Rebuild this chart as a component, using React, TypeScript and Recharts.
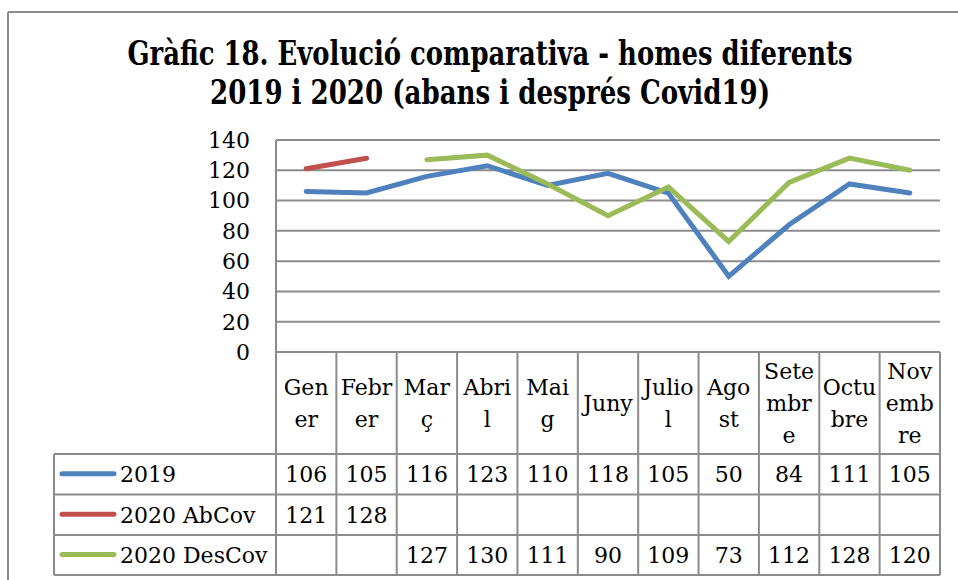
import { LineChart, Line, XAxis, YAxis, CartesianGrid, Customized } from 'recharts';

const months = ['Gener', 'Febrer', 'Març', 'Abril', 'Maig', 'Juny', 'Juliol', 'Agost', 'Setembre', 'Octubre', 'Novembre'];
const monthWrap = [
  ['Gen', 'er'], ['Febr', 'er'], ['Mar', 'ç'], ['Abri', 'l'], ['Mai', 'g'], ['Juny'],
  ['Julio', 'l'], ['Ago', 'st'], ['Sete', 'mbr', 'e'], ['Octu', 'bre'], ['Nov', 'emb', 're'],
];
const s2019 = [106, 105, 116, 123, 110, 118, 105, 50, 84, 111, 105];
const s2020Ab = [121, 128, null, null, null, null, null, null, null, null, null];
const s2020Des = [null, null, 127, 130, 111, 90, 109, 73, 112, 128, 120];
const yTicks = [0, 20, 40, 60, 80, 100, 120, 140];

const series = [
  { key: 'y2019', name: '2019', color: '#4F81BD', values: s2019 },
  { key: 'ab2020', name: '2020 AbCov', color: '#C0504D', values: s2020Ab },
  { key: 'des2020', name: '2020 DesCov', color: '#9BBB59', values: s2020Des },
];

const data = months.map((m, i) => ({
  mes: m,
  y2019: s2019[i],
  ab2020: s2020Ab[i],
  des2020: s2020Des[i],
}));

const W = 958;
const H = 580;
const PLOT_L = 276;
const PLOT_R = 940;
const PLOT_T = 140;
const PLOT_B = 352;
const COL_W = (PLOT_R - PLOT_L) / months.length;
const ROWS = [454, 494.5, 535, 575];
const LEG_L = 54;
const GRID = '#8c8c8c';
const FONT = '"DejaVu Serif", serif';
const TITLE_FONT = '"DejaVu Serif Condensed", "DejaVu Serif", serif';

function MonthColumn(props: any) {
  const { x, payload } = props;
  const i = payload.index;
  const lines = monthWrap[i];
  const n = lines.length;
  return (
    <g>
      {i === 0 && <line x1={x - COL_W / 2} x2={x - COL_W / 2} y1={PLOT_B} y2={ROWS[3]} stroke={GRID} strokeWidth={2} />}
      <line x1={x + COL_W / 2} x2={x + COL_W / 2} y1={PLOT_B} y2={ROWS[3]} stroke={GRID} strokeWidth={2} />
      {lines.map((t, k) => (
        <text key={k} x={x} y={411 + (k - (n - 1) / 2) * 32} textAnchor="middle" fontFamily={FONT} fontSize={22} fill="#000">
          {t}
        </text>
      ))}
      {series.map((s, r) => {
        const v = s.values[i];
        if (v == null) return null;
        return (
          <text key={s.key} x={x} y={(ROWS[r] + ROWS[r + 1]) / 2 + 8} textAnchor="middle" fontFamily={FONT} fontSize={22} fill="#000">
            {v}
          </text>
        );
      })}
    </g>
  );
}

function Overlay() {
  return (
    <g>
      {/* outer frame */}
      <line x1={8} x2={8} y1={12} y2={H} stroke={GRID} strokeWidth={2} />
      <line x1={8} x2={W} y1={12} y2={12} stroke={GRID} strokeWidth={2} />
      {/* title */}
      <text x={490} y={65} textAnchor="middle" fontFamily={TITLE_FONT} fontWeight="bold" fontSize={33}
        textLength={725} lengthAdjust="spacingAndGlyphs">
        Gràfic 18. Evolució comparativa - homes diferents
      </text>
      <text x={490} y={104} textAnchor="middle" fontFamily={TITLE_FONT} fontWeight="bold" fontSize={33}
        textLength={560} lengthAdjust="spacingAndGlyphs">
        2019 i 2020 (abans i després Covid19)
      </text>
      {/* data table rules + legend keys */}
      {ROWS.map((y) => (
        <line key={y} x1={LEG_L} x2={PLOT_R} y1={y} y2={y} stroke={GRID} strokeWidth={2} />
      ))}
      <line x1={LEG_L} x2={LEG_L} y1={ROWS[0]} y2={ROWS[3]} stroke={GRID} strokeWidth={2} />
      {series.map((s, r) => {
        const cy = (ROWS[r] + ROWS[r + 1]) / 2;
        return (
          <g key={s.key}>
            <line x1={62} x2={114} y1={cy - 0.5} y2={cy - 0.5} stroke={s.color} strokeWidth={5} strokeLinecap="round" />
            <text x={120} y={cy + 8} fontFamily={FONT} fontSize={22} fill="#000">{s.name}</text>
          </g>
        );
      })}
    </g>
  );
}

export default function App() {
  return (
    <div style={{ position: 'absolute', left: 0, top: 0, width: W, height: H, background: '#fff' }}>
      <LineChart
        width={W}
        height={H}
        data={data}
        margin={{ top: PLOT_T, right: W - PLOT_R, bottom: 0, left: PLOT_L - 60 }}
      >
        <CartesianGrid vertical={false} stroke={GRID} strokeWidth={2} />
        <XAxis
          dataKey="mes"
          interval={0}
          padding={{ left: COL_W / 2, right: COL_W / 2 }}
          axisLine={false}
          tickLine={false}
          tick={<MonthColumn />}
          height={H - PLOT_B}
        />
        <YAxis
          width={60}
          domain={[0, 140]}
          ticks={yTicks}
          interval={0}
          axisLine={{ stroke: GRID, strokeWidth: 2 }}
          tickLine={false}
          tickMargin={20}
          tick={{ fontFamily: FONT, fontSize: 22, fill: '#000' }}
        />
        {series.map((s) => (
          <Line
            key={s.key}
            dataKey={s.key}
            name={s.name}
            stroke={s.color}
            strokeWidth={5}
            strokeLinecap="round"
            dot={false}
            connectNulls={false}
            isAnimationActive={false}
          />
        ))}
        <Customized component={Overlay} />
      </LineChart>
    </div>
  );
}
